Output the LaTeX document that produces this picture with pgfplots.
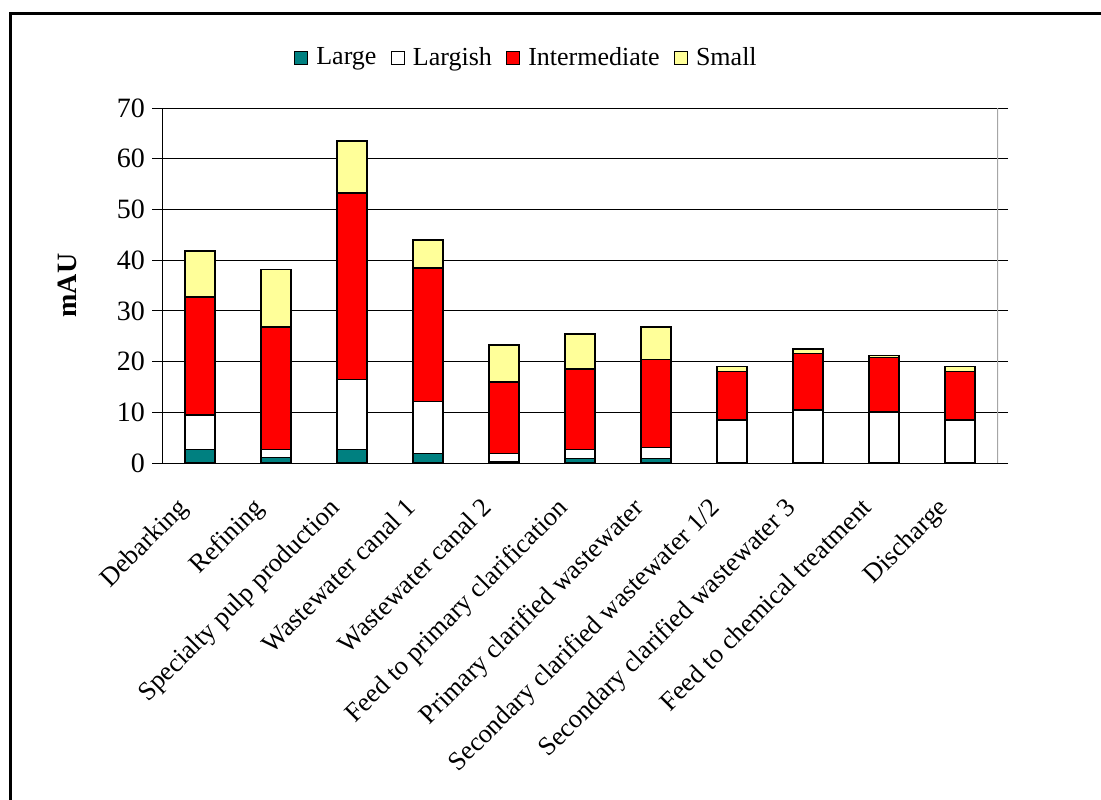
\documentclass[border=0pt]{standalone}
\usepackage{pgfplots}
\pgfplotsset{compat=1.18}
\usepackage{fontspec}
\setmainfont{Liberation Serif}

\definecolor{cLarge}{RGB}{0,128,128}
\definecolor{cLargish}{RGB}{255,255,255}
\definecolor{cInter}{RGB}{255,0,0}
\definecolor{cSmall}{RGB}{255,255,153}

\pgfplotsset{
  sq legend/.style={legend image code/.code={
      \draw[##1,draw=black,line width=0.6pt] (0pt,-3.3pt) rectangle (6.6pt,3.3pt);}},
}

\begin{document}
\begin{tikzpicture}
\useasboundingbox (0,0) rectangle (550.5pt,399.5pt);
% outer frame (only top and left edges fall inside the page)
\draw[line width=1.5pt] (5.25pt,-5pt) -- (5.25pt,392.5pt) -- (560pt,392.5pt);
\begin{axis}[
  at={(81pt,168pt)}, anchor=south west,
  scale only axis, width=418pt, height=177.5pt,
  ybar stacked, bar width=15pt,
  xmin=-0.5, xmax=10.5, ymin=0, ymax=70,
  ytick={0,10,...,70},
  xtick={0,...,10},
  xticklabels={Debarking, Refining, Specialty pulp production, Wastewater canal 1,
    Wastewater canal 2, Feed to primary clarification, Primary clarified wastewater,
    Secondary clarified wastewater 1/2, Secondary clarified wastewater 3,
    Feed to chemical treatment, Discharge},
  x tick style={draw=none},
  extra x ticks={-0.5,0.5,...,10.5},
  extra x tick labels={},
  extra x tick style={grid=none, major tick length=5pt, tick style={draw=black, thin}},
  tick align=outside,
  major tick length=5pt,
  y tick style={black, thin},
  ymajorgrids, grid style={black, line width=0.5pt},
  axis line style={draw=none},
  xticklabel style={font=\fontsize{13.2}{15}\selectfont, xshift=-12pt, yshift=-10pt,
    rotate=45, anchor=north east, inner sep=1pt},
  yticklabel style={font=\fontsize{14}{16}\selectfont},
  /pgf/number format/assume math mode=true,
  ylabel={\textbf{mAU}},
  ylabel style={font=\fontsize{14}{16}\selectfont,
    at={(axis description cs:-0.1136,0.5)}, anchor=center},
  every axis plot/.append style={draw=black, line width=0.75pt},
  legend columns=4,
  legend style={at={(0.437,1.141)}, anchor=center, draw=none,
    font=\fontsize{13}{15}\selectfont,
    /tikz/every odd column/.append style={column sep=2pt},
    /tikz/every even column/.append style={column sep=5pt},
    /tikz/inner xsep=2pt},
  legend cell align=left,
]
% Large
\addplot[fill=cLarge, sq legend] coordinates {
  (0,2.7) (1,1.1) (2,2.7) (3,1.9) (4,0.3) (5,0.85) (6,0.85) (7,0) (8,0) (9,0) (10,0)};
% Largish
\addplot[fill=cLargish, sq legend] coordinates {
  (0,6.8) (1,1.6) (2,13.8) (3,10.2) (4,1.6) (5,1.85) (6,2.25) (7,8.5) (8,10.45) (9,10.1) (10,8.5)};
% Intermediate
\addplot[fill=cInter, sq legend] coordinates {
  (0,23.2) (1,24.1) (2,36.7) (3,26.4) (4,14.1) (5,15.8) (6,17.3) (7,9.5) (8,11.15) (9,10.7) (10,9.5)};
% Small
\addplot[fill=cSmall, sq legend] coordinates {
  (0,9.1) (1,11.4) (2,10.3) (3,5.5) (4,7.3) (5,6.9) (6,6.4) (7,1.0) (8,0.9) (9,0.4) (10,1.0)};
\legend{Large, Largish, Intermediate, Small}
% plot area edges
\draw[black, line width=0.5pt] (rel axis cs:0,0) -- (rel axis cs:0,1);
\draw[black, line width=0.5pt] (rel axis cs:0,0) -- (rel axis cs:1,0);
\draw[gray!70, line width=0.6pt] (rel axis cs:1,0) -- (rel axis cs:1,1);
\end{axis}
\end{tikzpicture}
\end{document}
